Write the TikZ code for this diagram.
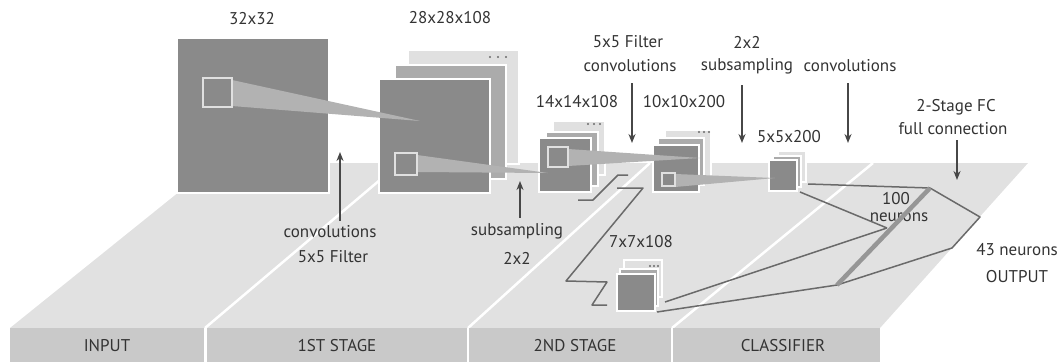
\documentclass[tikz,border=0pt]{standalone}
\usepackage{fontspec}
\setmainfont{PT Sans}
\usetikzlibrary{arrows.meta}

\definecolor{floortop}{HTML}{E1E1E1}
\definecolor{floorbar}{HTML}{C9C9C9}
\definecolor{sqgray}{HTML}{8A8A8A}
\definecolor{laytwo}{HTML}{ABABAB}
\definecolor{laythree}{HTML}{E0E0E0}
\definecolor{beamgray}{HTML}{B2B2B2}
\definecolor{wiregray}{HTML}{6A6A6A}
\definecolor{txtgray}{HTML}{333333}

\begin{document}
\begin{tikzpicture}[x=1pt,y=-1pt,
    lbl/.style={text=txtgray,font=\fontsize{17}{19}\selectfont,inner sep=1pt},
    arr/.style={draw=txtgray!90,line width=1.6pt,-{Stealth[length=9pt,width=7pt]}},
    wire/.style={draw=wiregray,line width=1.5pt,line join=round},
    gap/.style={draw=white,line width=2.5pt},
    front/.style={fill=sqgray,draw=white,line width=1.2pt},
    inner/.style={fill=sqgray,draw=laythree,line width=1.8pt}]
    \useasboundingbox (0,0) rectangle (1063,362);

    \fill[floortop] (215,163) -- (1028,163) -- (880,328) -- (10,328) -- cycle;
    \draw[gap] (205,328) -- (400,163);
    \draw[gap] (468,328) -- (650,163);
    \draw[gap] (672,328) -- (873,163);
    \fill[floorbar] (10,328) rectangle (880,362);
    \foreach \x in {205.5,468,672} \draw[gap] (\x,328) -- (\x,362);

    \node[lbl] (bin)  at (107,346) {INPUT};
    \node[lbl] (bone) at (337,346) {1ST STAGE};
    \node[lbl] (btwo) at (575,346) {2ND STAGE};
    \node[lbl] (bcls) at (783,346) {CLASSIFIER};

    \filldraw[front] (177,38) rectangle (329,193);
    \foreach \x/\y/\w/\h/\ax/\ay/\bx/\by in {379/79/111/114/16/-14/29/-29,
        539/138/52/54/7/-6/14/-17, 653/145/46/47/5/-7/12/-15,
        769/160/28/31/4/-4/9/-9, 617/274/38/37/3/-5/7/-14} {
        \filldraw[fill=laythree,draw=white,line width=1.2pt] (\x+\bx,\y+\by) rectangle ++(\w,\h);
        \filldraw[fill=laytwo,draw=white,line width=1.2pt] (\x+\ax,\y+\ay) rectangle ++(\w,\h);
        \filldraw[front] (\x,\y) rectangle ++(\w,\h);
    }
    \foreach \px/\py/\s in {490/57/8, 588/124/6, 699/132/5, 650/266/4}
        \foreach \k in {0,1,2} \fill[wiregray] (\px+\k*\s,\py) circle[radius=1.2pt];

    \fill[beamgray] (232,80) -- (232,106) -- (420,121) -- cycle;
    \fill[beamgray] (417,155) -- (417,172) -- (548,173) -- cycle;
    \fill[beamgray] (568,149) -- (568,166) -- (700,158) -- cycle;
    \fill[beamgray] (675,174) -- (675,187) -- (775,178) -- cycle;
    \foreach \x/\y/\s in {203/78/29, 395/153/22, 548/147/20, 662/173/13}
        \filldraw[inner] (\x,\y) rectangle ++(\s,\s);

    \draw[wire] (578,200) -- (593,200) -- (618,175) -- (628,175);
    \draw[wire] (617,188) -- (643,188) -- (566,281) -- (607,282) -- (592,305) -- (607,305);

    \coordinate (ntop) at (930,188);
    \coordinate (nmid) at (887,228);
    \coordinate (nbot) at (837,285);
    \coordinate (oright) at (980,217);
    \coordinate (olow) at (952,248);
    \draw[wire] (808,184) -- (ntop);
    \draw[wire] (800,192) -- (nmid);
    \draw[wire] (665,302) -- (nmid);
    \draw[wire] (657,312) -- (nbot);
    \draw[wire] (ntop) -- (oright) -- (olow) -- (nbot);

    \node[lbl] (hund) at (896,199) {100};
    \node[lbl] (hneu) at (899,217) {neurons};
    \draw[draw=sqgray!90,line width=4.5pt] (ntop) -- (nbot);

    \node[lbl] (s32)  at (252,19)  {32x32};
    \node[lbl] (s28)  at (450,18)  {28x28x108};
    \node[lbl] (s14)  at (577,102) {14x14x108};
    \node[lbl] (s10)  at (684,102) {10x10x200};
    \node[lbl] (s5)   at (789,137) {5x5x200};
    \node[lbl] (s7)   at (641,242) {7x7x108};
    \node[lbl] (cvone) at (330,232) {convolutions};
    \node[lbl] (flone) at (333,257) {5x5 Filter};
    \node[lbl] (sbone) at (517,231) {subsampling};
    \node[lbl] (ssone) at (517,258) {2x2};
    \node[lbl] (fltwo) at (628,42)  {5x5 Filter};
    \node[lbl] (cvtwo) at (630,66)  {convolutions};
    \node[lbl] (sstwo) at (747,42)  {2x2};
    \node[lbl] (sbtwo) at (747,66)  {subsampling};
    \node[lbl] (cvthr) at (850,66)  {convolutions};
    \node[lbl] (fcone) at (956,107) {2-Stage FC};
    \node[lbl] (fctwo) at (953,129) {full connection};
    \node[lbl] (oneu)  at (1017,250) {43 neurons};
    \node[lbl] (oout)  at (1017,277) {OUTPUT};

    \coordinate (aone) at (340,152);
    \coordinate (atwo) at (520,181);
    \coordinate (athr) at (632,143);
    \coordinate (afou) at (742,143);
    \coordinate (afiv) at (848,143);
    \coordinate (asix) at (957,180);
    \draw[arr] (cvone.north -| aone) ++(0,-4) -- (aone);
    \draw[arr] (sbone.north -| atwo) ++(0,-4) -- (atwo);
    \draw[arr] (cvtwo.south -| athr) ++(0,10) -- (athr);
    \draw[arr] (sbtwo.south -| afou) ++(0,10) -- (afou);
    \draw[arr] (cvthr.south -| afiv) ++(0,10) -- (afiv);
    \draw[arr] (fctwo.south -| asix) ++(0,4) -- (asix);
\end{tikzpicture}
\end{document}
